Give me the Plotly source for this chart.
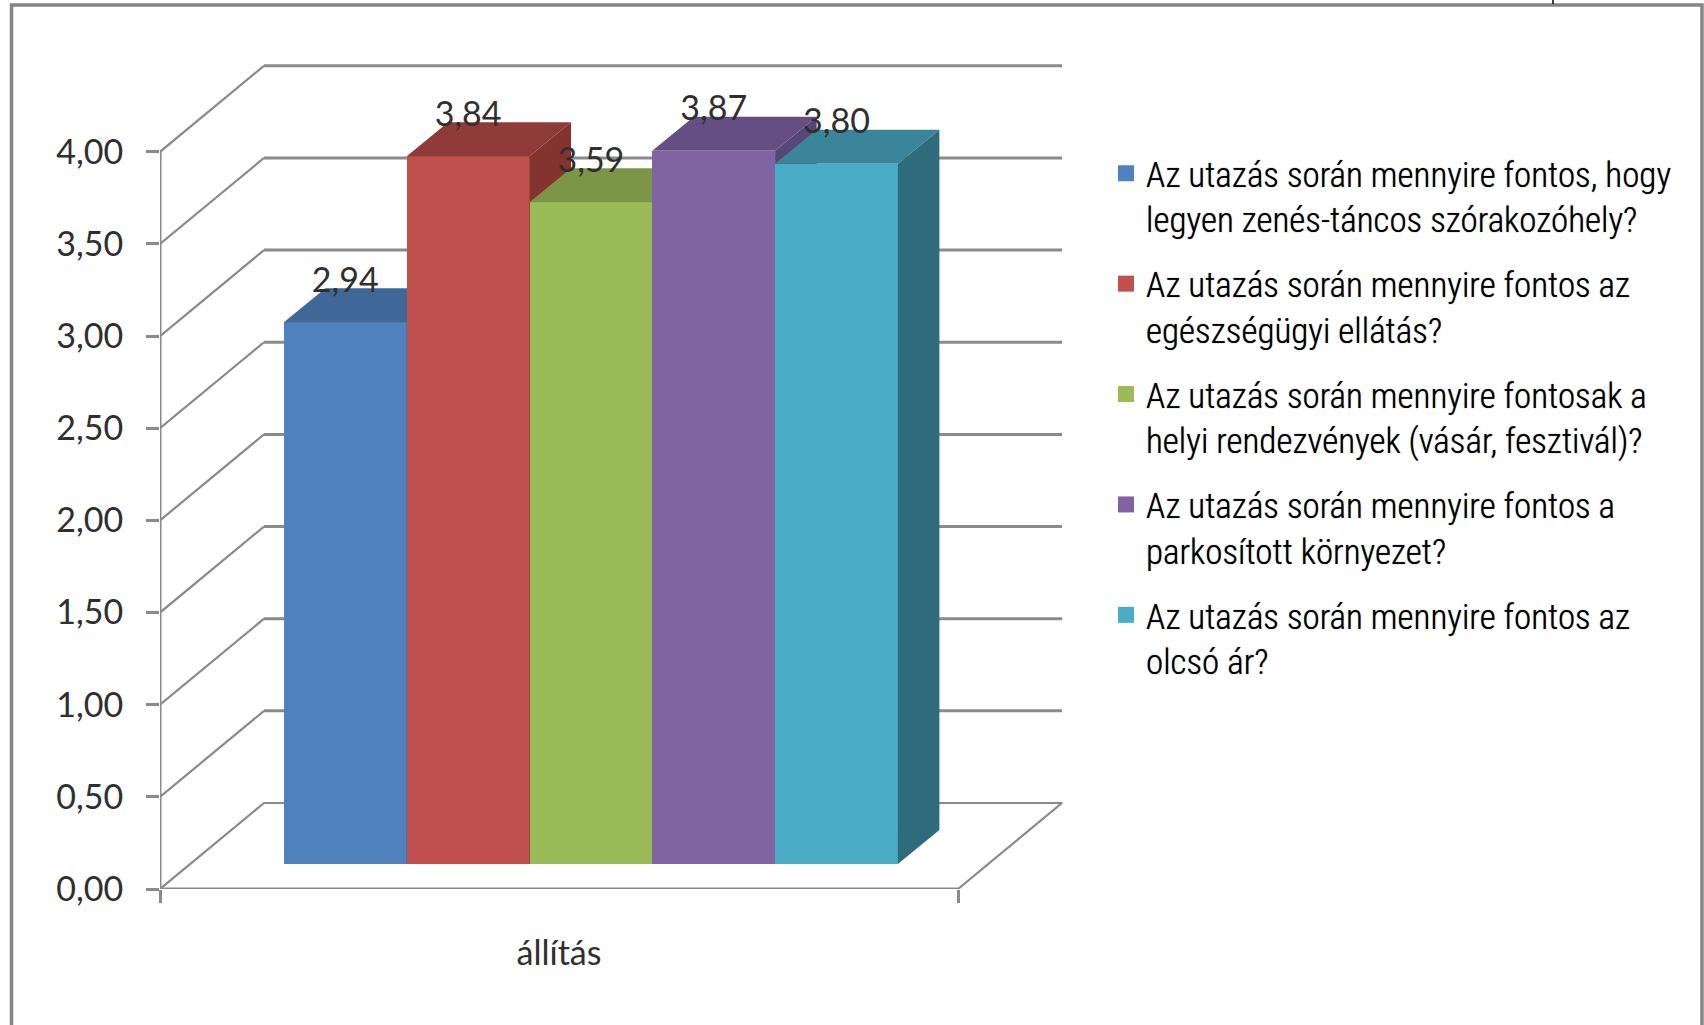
import plotly.graph_objects as go

# ---- data ----
SERIES = [
    "Az utazás során mennyire fontos, hogy<br>legyen zenés-táncos szórakozóhely?",
    "Az utazás során mennyire fontos az<br>egészségügyi ellátás?",
    "Az utazás során mennyire fontosak a<br>helyi rendezvények (vásár, fesztivál)?",
    "Az utazás során mennyire fontos a<br>parkosított környezet?",
    "Az utazás során mennyire fontos az<br>olcsó ár?",
]
VALUES = [2.94, 3.84, 3.59, 3.87, 3.80]
CATEGORY = "állítás"
Y_TICKS = [0, 0.5, 1, 1.5, 2, 2.5, 3, 3.5, 4]
Y_TICK_LABELS = ["0,00", "0,50", "1,00", "1,50", "2,00", "2,50", "3,00", "3,50", "4,00"]

# ---- style ----
FRONT = ["#4F81BD", "#C0504D", "#9BBB59", "#8064A2", "#4BACC6"]
TOP = ["#3F6797", "#8F3B39", "#7B9647", "#654F82", "#3A859A"]
SIDE = ["#365A85", "#85332F", "#6C843E", "#58457A", "#2E6B7C"]
GREY = "#8A8A8A"
TXT = "#2F2F2F"
W, H = 1704, 1025

# pixel geometry of the plot area and scales
PX_LEFT, PX_RIGHT, PX_TOP, PX_ZERO = 160, 1075, 40, 889
PX_PER_BAR, PX_PER_UNIT = 122.8, 184.3
PX_BAR0 = 345.3
X_LO = (PX_LEFT - PX_BAR0) / PX_PER_BAR
X_HI = (PX_RIGHT - PX_BAR0) / PX_PER_BAR
Y_HI = (PX_ZERO - PX_TOP) / PX_PER_UNIT
X_FRONT_END = (958 - PX_BAR0) / PX_PER_BAR
WALL_DX, WALL_DY = 104 / PX_PER_BAR, 86 / PX_PER_UNIT
BAR_DX, BAR_DY = 41.5 / PX_PER_BAR, 34 / PX_PER_UNIT
BASE = 25 / PX_PER_UNIT
LABEL_OFF = 39 / PX_PER_UNIT

fig = go.Figure()

# walls and floor
sx, sy, bx, by = [], [], [], []
for t in Y_TICKS[1:]:
    sx += [X_LO, X_LO + WALL_DX, None]
    sy += [t, t + WALL_DY, None]
    bx += [X_LO + WALL_DX, X_FRONT_END + WALL_DX, None]
    by += [t + WALL_DY, t + WALL_DY, None]
fig.add_trace(go.Scatter(x=sx, y=sy, mode="lines", line=dict(color=GREY, width=2.2),
                         showlegend=False, hoverinfo="skip"))
fig.add_trace(go.Scatter(x=bx, y=by, mode="lines", line=dict(color=GREY, width=3),
                         showlegend=False, hoverinfo="skip"))
fig.add_trace(go.Scatter(
    x=[X_LO, X_LO + WALL_DX, X_FRONT_END + WALL_DX, X_FRONT_END],
    y=[0, WALL_DY, WALL_DY, 0],
    mode="lines", line=dict(color=GREY, width=2.2), showlegend=False, hoverinfo="skip"))
fig.add_trace(go.Scatter(x=[X_LO, X_LO, X_FRONT_END], y=[4, 0, 0], mode="lines",
                         line=dict(color=GREY, width=3),
                         showlegend=False, hoverinfo="skip", cliponaxis=False))

# legend entries
for i, name in enumerate(SERIES):
    fig.add_trace(go.Scatter(x=[None], y=[None], mode="markers", name=name, legendgroup=f"s{i}",
                             marker=dict(symbol="square", size=20, color=FRONT[i])))

# one overlaid subplot per bar so that later bars paint over earlier ones
for i, (v, name) in enumerate(zip(VALUES, SERIES)):
    n = i + 2
    xa, ya = f"x{n}", f"y{n}"
    fig.add_trace(go.Bar(x=[i], y=[v], base=[BASE], width=[1], name=name, legendgroup=f"s{i}",
                         marker=dict(color=FRONT[i], line=dict(width=0)), showlegend=False,
                         xaxis=xa, yaxis=ya))
    l, r, t = i - 0.5, i + 0.5, v + BASE
    fig.add_trace(go.Scatter(x=[l, r, r + BAR_DX, l + BAR_DX, l], y=[t, t, t + BAR_DY, t + BAR_DY, t],
                             mode="lines", fill="toself", fillcolor=TOP[i], line=dict(width=0, color=TOP[i]),
                             showlegend=False, hoverinfo="skip", xaxis=xa, yaxis=ya))
    fig.add_trace(go.Scatter(x=[r, r + BAR_DX, r + BAR_DX, r, r],
                             y=[BASE, BASE + BAR_DY, t + BAR_DY, t, BASE],
                             mode="lines", fill="toself", fillcolor=SIDE[i], line=dict(width=0, color=SIDE[i]),
                             showlegend=False, hoverinfo="skip", xaxis=xa, yaxis=ya))
    fig.layout[f"xaxis{n}"] = dict(overlaying="x", matches="x", visible=False, range=[X_LO, X_HI])
    fig.layout[f"yaxis{n}"] = dict(overlaying="y", matches="y", visible=False, range=[0, Y_HI])

# value labels on the last overlay
fig.add_trace(go.Scatter(
    x=list(range(len(VALUES))), y=[v + BASE + LABEL_OFF for v in VALUES],
    text=[f"{v:.2f}".replace(".", ",") for v in VALUES], mode="text",
    textposition="middle center", textfont=dict(family="Lato", size=34, color=TXT),
    showlegend=False, hoverinfo="skip", xaxis=f"x{len(VALUES)+1}", yaxis=f"y{len(VALUES)+1}"))

fig.update_layout(
    template="none",
    width=W, height=H, margin=dict(l=0, r=0, t=0, b=0, pad=0),
    paper_bgcolor="white", plot_bgcolor="rgba(0,0,0,0)",
    bargap=0, showlegend=True,
    xaxis=dict(domain=[PX_LEFT / W, PX_RIGHT / W], range=[X_LO, X_HI], showgrid=False, zeroline=False,
               showline=False, automargin=False, tickmode="array", tickvals=[(X_LO + X_FRONT_END) / 2],
               ticktext=[CATEGORY], ticks="", ticklabelstandoff=41,
               tickfont=dict(family="Lato", size=34, color=TXT),
               minor=dict(tickmode="array", tickvals=[X_LO, X_FRONT_END], ticks="outside", ticklen=13,
                          tickwidth=2.5, tickcolor=GREY, showgrid=False)),
    yaxis=dict(domain=[(H - PX_ZERO) / H, (H - PX_TOP) / H], range=[0, Y_HI], showgrid=False, zeroline=False,
               showline=False, automargin=False, tickmode="array", tickvals=Y_TICKS, ticktext=Y_TICK_LABELS,
               ticks="outside", ticklen=13, tickwidth=3, tickcolor=GREY, ticklabelstandoff=16,
               tickfont=dict(family="Lato", size=34, color=TXT)),
    legend=dict(x=1106 / W, y=(H - 144) / H, xanchor="left", yanchor="top", tracegroupgap=16.4,
                itemsizing="trace", itemwidth=30, valign="top", bgcolor="rgba(0,0,0,0)",
                font=dict(family="Roboto Condensed", weight=300, size=35, color="#000000",
                          shadow="0 0 1px #333333"),
                traceorder="grouped"),
    shapes=[
        dict(type="rect", xref="paper", yref="paper", x0=11.5 / W, x1=1702 / W, y0=-0.05, y1=(H - 5) / H,
             line=dict(color="#858585", width=3.5), layer="below"),
        dict(type="line", xref="paper", yref="paper", x0=1553 / W, x1=1553 / W, y0=1, y1=(H - 4) / H,
             line=dict(color="black", width=1.5)),
    ],
)

fig.write_html("out.html", config={"displayModeBar": False}, post_script="document.body.style.margin='0';")
